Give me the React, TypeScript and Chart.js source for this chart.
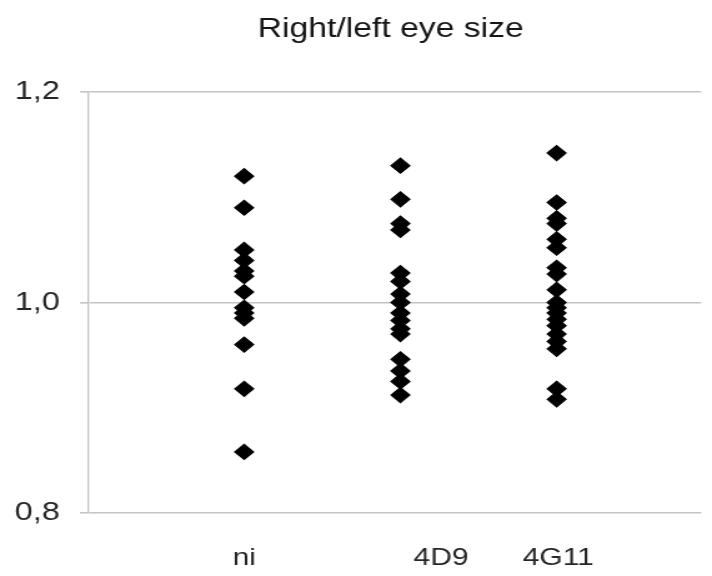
import React, { useEffect, useRef } from "react";
import { Chart, registerables } from "chart.js";

Chart.register(...registerables);

// ---- data ----
const categories = ["ni", "4D9", "4G11"];
const niValues = [1.12, 1.09, 1.05, 1.04, 1.03, 1.025, 1.01, 0.995, 0.99, 0.985, 0.96, 0.918, 0.858];
const d4D9Values = [1.13, 1.098, 1.075, 1.069, 1.028, 1.02, 1.008, 1.0, 0.99, 0.983, 0.975, 0.97, 0.946, 0.935, 0.925, 0.912];
const g4G11Values = [1.142, 1.095, 1.08, 1.075, 1.06, 1.052, 1.033, 1.027, 1.012, 1.0, 0.995, 0.99, 0.984, 0.978, 0.97, 0.963, 0.956, 0.918, 0.908];
const yTickValues = [0.8, 1.0, 1.2];
const yTickLabels = ["0,8", "1,0", "1,2"];
const titleText = "Right/left eye size";

// ---- layout (not data) ----
const SX = 1.25; // horizontal stretch of the drawing
const W = 712;
const H = 576;
const IW = W / SX;
const labelNudge = [0, 0.26, 0.01];
const X_MAX = 3.925;

export default function App() {
  const ref = useRef<HTMLCanvasElement | null>(null);
  useEffect(() => {
    if (!ref.current) return;
    const groups = [niValues, d4D9Values, g4G11Values];
    const datasets = groups.map((vals, gi) => ({
      label: categories[gi],
      data: vals.map((v) => ({ x: gi + 1, y: v })),
      pointStyle: "rectRot" as const,
      pointRadius: 7.5,
      pointBorderWidth: 1.2,
      backgroundColor: "#000",
      borderColor: "#000",
    }));
    const titlePlugin = {
      id: "customTitle",
      afterDraw(chart: any) {
        const ctx = chart.ctx;
        ctx.save();
        ctx.font = '27px "Liberation Sans", Arial, sans-serif';
        ctx.fillStyle = "#151515";
        ctx.textAlign = "center";
        ctx.textBaseline = "alphabetic";
        ctx.fillText(titleText, 391 / SX, 36.5);
        ctx.restore();
      },
    };
    const chart = new Chart(ref.current, {
      type: "scatter",
      data: { datasets },
      plugins: [titlePlugin],
      options: {
        animation: false,
        responsive: false,
        devicePixelRatio: 1,
        layout: { padding: { top: 92, left: 0, right: 0, bottom: 0 } },
        plugins: { legend: { display: false }, tooltip: { enabled: false }, title: { display: false } },
        scales: {
          x: {
            type: "linear",
            min: 0,
            max: X_MAX,
            grid: { display: false, drawTicks: false },
            border: { display: false },
            afterBuildTicks: (scale: any) => {
              scale.ticks = categories.map((_, i) => ({ value: i + 1 + labelNudge[i] }));
            },
            afterFit: (scale: any) => {
              scale.height = H - 513;
            },
            ticks: {
              autoSkip: false,
              maxRotation: 0,
              padding: 31,
              color: "#262626",
              font: { family: '"Liberation Sans", Arial, sans-serif', size: 24 },
              callback: (_v: any, i: number) => categories[i],
            },
          },
          y: {
            min: 0.8,
            max: 1.2,
            afterBuildTicks: (scale: any) => {
              scale.ticks = yTickValues.map((v) => ({ value: v }));
            },
            afterFit: (scale: any) => {
              scale.width = 88 / SX;
            },
            grid: { color: "#c4c4c4", lineWidth: 1.6, tickLength: 8 / SX, drawTicks: true },
            border: { display: true, color: "#c4c4c4", width: 1.3 },
            ticks: {
              padding: 20 / SX,
              color: "#262626",
              font: { family: '"Liberation Sans", Arial, sans-serif', size: 26 },
              callback: (_v: any, i: number) => yTickLabels[i],
            },
          },
        },
      },
    });
    return () => chart.destroy();
  }, []);
  return (
    <div style={{ position: "absolute", left: 0, top: 0, width: W, height: H, background: "#fff" }}>
      <canvas ref={ref} width={Math.round(IW)} height={H} style={{ width: W + "px", height: H + "px", display: "block" }} />
    </div>
  );
}
